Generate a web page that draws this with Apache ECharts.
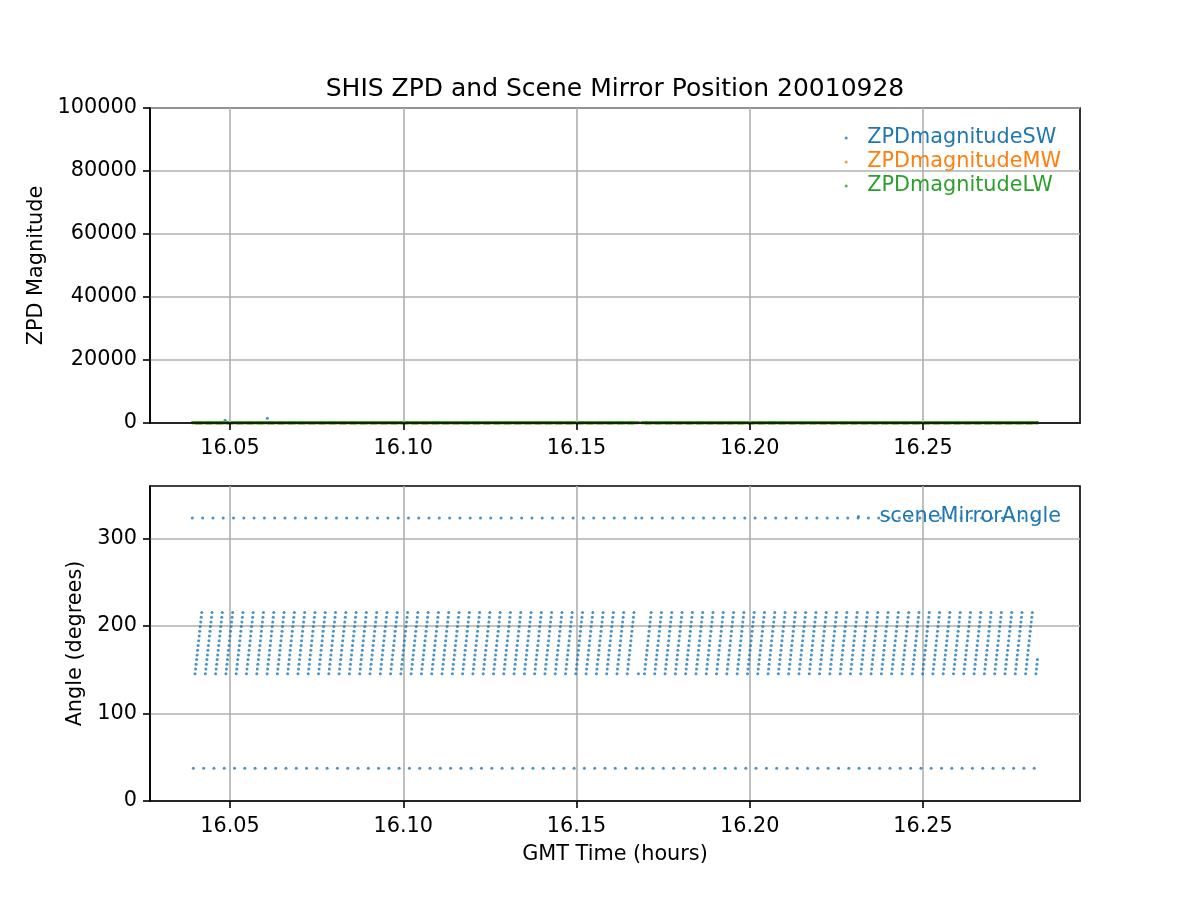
<!DOCTYPE html>
<html>
<head>
<meta charset="utf-8">
<script src="https://cdn.jsdelivr.net/npm/echarts@6/dist/echarts.min.js"></script>
<style>html,body{margin:0;padding:0;background:#fff}#c{width:1200px;height:900px}</style>
</head>
<body>
<div id="c"></div>
<script>
// ---- data ----
const titleText = 'SHIS ZPD and Scene Mirror Position 20010928';
const xTicks = [16.05, 16.10, 16.15, 16.20, 16.25];
const zpdTicksMax = 100000;
const angleTicks = [0, 100, 200, 300];
const xMin = 16.0269, xMax = 16.2953;

// start time (hours) of each scene-mirror cycle
const cycleStarts = [
  16.03912, 16.04209, 16.04506, 16.04803, 16.05100, 16.05397, 16.05694, 16.05991, 16.06288, 16.06585,
  16.06882, 16.07179, 16.07476, 16.07773, 16.08070, 16.08367, 16.08664, 16.08961, 16.09258, 16.09555,
  16.09852, 16.10149, 16.10446, 16.10743, 16.11040, 16.11337, 16.11634, 16.11931, 16.12228, 16.12525,
  16.12822, 16.13119, 16.13416, 16.13713, 16.14010, 16.14307, 16.14604, 16.14901, 16.15198, 16.15495,
  16.15792, 16.16089, 16.16386, 16.16709,
  16.16882, 16.17179, 16.17477, 16.17774, 16.18071, 16.18369, 16.18666, 16.18963, 16.19260, 16.19558,
  16.19855, 16.20152, 16.20450, 16.20747, 16.21044, 16.21342, 16.21639, 16.21936, 16.22233, 16.22531,
  16.22828, 16.23125, 16.23423, 16.23720, 16.24017, 16.24315, 16.24612, 16.24909, 16.25206, 16.25504,
  16.25801, 16.26098, 16.26396, 16.26693, 16.26990, 16.27288, 16.27585, 16.27882, 16.28179
];
// hot / cold blackbody views (angle, time offset in hours within a cycle)
const hotBB = [323.5, 0.0];
const coldBB = [37.5, 0.00029];
// earth-view scan within one cycle
const rampAngles = [145.5, 150.9, 156.3, 161.7, 167.0, 172.4, 177.8, 183.2, 188.6, 194.0, 199.3, 204.7, 210.1, 215.5];
const rampOffsets = [0.00078, 0.00093, 0.00108, 0.00123, 0.00138, 0.00152, 0.00167, 0.00182, 0.00197, 0.00212, 0.00226, 0.00241, 0.00256, 0.00271];
// cycles whose scan was cut short: [cycle index, number of scan points]
const partialCycles = [[43, 1], [82, 4]];

// ZPD magnitudes: all ~0 except two SW spikes
const zpdLevelSW = 120, zpdLevelMW = 90, zpdLevelLW = 60;
const zpdSpikesSW = [[16.04856, 850], [16.06076, 1500]];

const seriesNames = ['ZPDmagnitudeSW', 'ZPDmagnitudeMW', 'ZPDmagnitudeLW'];
const angleName = 'sceneMirrorAngle';
const colors = ['#1f77b4', '#ff7f0e', '#2ca02c'];

// ---- build point lists ----
const partialMap = new Map(partialCycles);
const mirrorPts = [];
cycleStarts.forEach((t, i) => {
  mirrorPts.push([t + hotBB[1], hotBB[0]]);
  mirrorPts.push([t + coldBB[1], coldBB[0]]);
  const n = partialMap.has(i) ? partialMap.get(i) : rampAngles.length;
  for (let k = 0; k < n; k++) mirrorPts.push([t + rampOffsets[k], rampAngles[k]]);
});
const times = mirrorPts.map(p => p[0]);
const zpdSW = times.map(t => [t, zpdLevelSW]).concat(zpdSpikesSW);
const zpdMW = times.map(t => [t, zpdLevelMW]);
const zpdLW = times.map(t => [t, zpdLevelLW]);

const FONT = 'DejaVu Sans';
const FS = 20.8;
const LW = 1.6;
function xAxisCfg(gi, withName) {
  return {
    type: 'value', gridIndex: gi, min: xMin, max: xMax, z: gi === 0 ? 3 : 0,
    name: withName ? 'GMT Time (hours)' : '', nameLocation: 'middle', nameGap: 43,
    nameTextStyle: {color: '#000', fontSize: FS, fontFamily: FONT},
    axisLine: {show: true, onZero: false, lineStyle: {color: '#000', width: LW}},
    axisTick: {show: true, length: 7, customValues: xTicks, lineStyle: {color: '#000', width: LW}},
    axisLabel: {show: true, customValues: xTicks, formatter: v => v.toFixed(2), color: '#000', fontSize: FS, fontFamily: FONT, margin: 15},
    splitLine: {show: true, lineStyle: {color: '#b0b0b0', width: LW}}
  };
}
function legendCfg(names, top) {
  return {
    orient: 'vertical', right: 139, top: top, padding: 0, itemGap: 3,
    icon: 'circle', itemWidth: 32, itemHeight: 3,
    textStyle: {fontSize: FS, fontFamily: FONT, lineHeight: 21},
    data: names.map(n => ({name: n, textStyle: {color: n === angleName ? colors[0] : colors[seriesNames.indexOf(n)]}}))
  };
}
const sym = 3;
const option = {
  animation: false,
  backgroundColor: '#fff',
  title: {text: titleText, left: 615, textAlign: 'center', top: 77, padding: 0,
    textStyle: {color: '#000', fontSize: 25, fontWeight: 'normal', fontFamily: FONT}},
  grid: [
    {left: 150, top: 108, width: 930, height: 315, show: true, borderColor: '#000', borderWidth: LW, backgroundColor: 'transparent'},
    {left: 150, top: 486, width: 930, height: 315, show: true, borderColor: '#000', borderWidth: LW, backgroundColor: 'transparent'}
  ],
  xAxis: [xAxisCfg(0, false), xAxisCfg(1, true)],
  yAxis: [
    {type: 'value', gridIndex: 0, min: 0, max: zpdTicksMax, interval: 20000,
     name: 'ZPD Magnitude', nameLocation: 'middle', nameGap: 101,
     nameTextStyle: {color: '#000', fontSize: FS, fontFamily: FONT},
     axisLine: {show: true, lineStyle: {color: '#000', width: LW}},
     axisTick: {show: true, length: 7, lineStyle: {color: '#000', width: LW}},
     axisLabel: {formatter: v => String(v), color: '#000', fontSize: FS, fontFamily: FONT, margin: 13},
     splitLine: {show: true, lineStyle: {color: '#b0b0b0', width: LW}}},
    {type: 'value', gridIndex: 1, min: 0, max: 360,
     name: 'Angle (degrees)', nameLocation: 'middle', nameGap: 62,
     nameTextStyle: {color: '#000', fontSize: FS, fontFamily: FONT},
     axisLine: {show: true, lineStyle: {color: '#000', width: LW}},
     axisTick: {show: true, length: 7, customValues: angleTicks, lineStyle: {color: '#000', width: LW}},
     axisLabel: {customValues: angleTicks, formatter: v => String(v), color: '#000', fontSize: FS, fontFamily: FONT, margin: 13},
     splitLine: {show: true, lineStyle: {color: '#b0b0b0', width: LW}}}
  ],
  legend: [legendCfg(seriesNames, 127.5), legendCfg([angleName], 506)],
  series: [
    {name: seriesNames[0], type: 'scatter', xAxisIndex: 0, yAxisIndex: 0, data: zpdSW, symbol: 'circle', symbolSize: sym, itemStyle: {color: colors[0]}},
    {name: seriesNames[1], type: 'scatter', xAxisIndex: 0, yAxisIndex: 0, data: zpdMW, symbol: 'circle', symbolSize: sym, itemStyle: {color: colors[1]}},
    {name: seriesNames[2], type: 'scatter', xAxisIndex: 0, yAxisIndex: 0, data: zpdLW, symbol: 'circle', symbolSize: sym, itemStyle: {color: colors[2]}},
    {name: angleName, type: 'scatter', xAxisIndex: 1, yAxisIndex: 1, data: mirrorPts, symbol: 'circle', symbolSize: sym, itemStyle: {color: colors[0]}}
  ]
};
const chart = echarts.init(document.getElementById('c'), null, {renderer: 'canvas'});
chart.setOption(option);
</script>
</body>
</html>
